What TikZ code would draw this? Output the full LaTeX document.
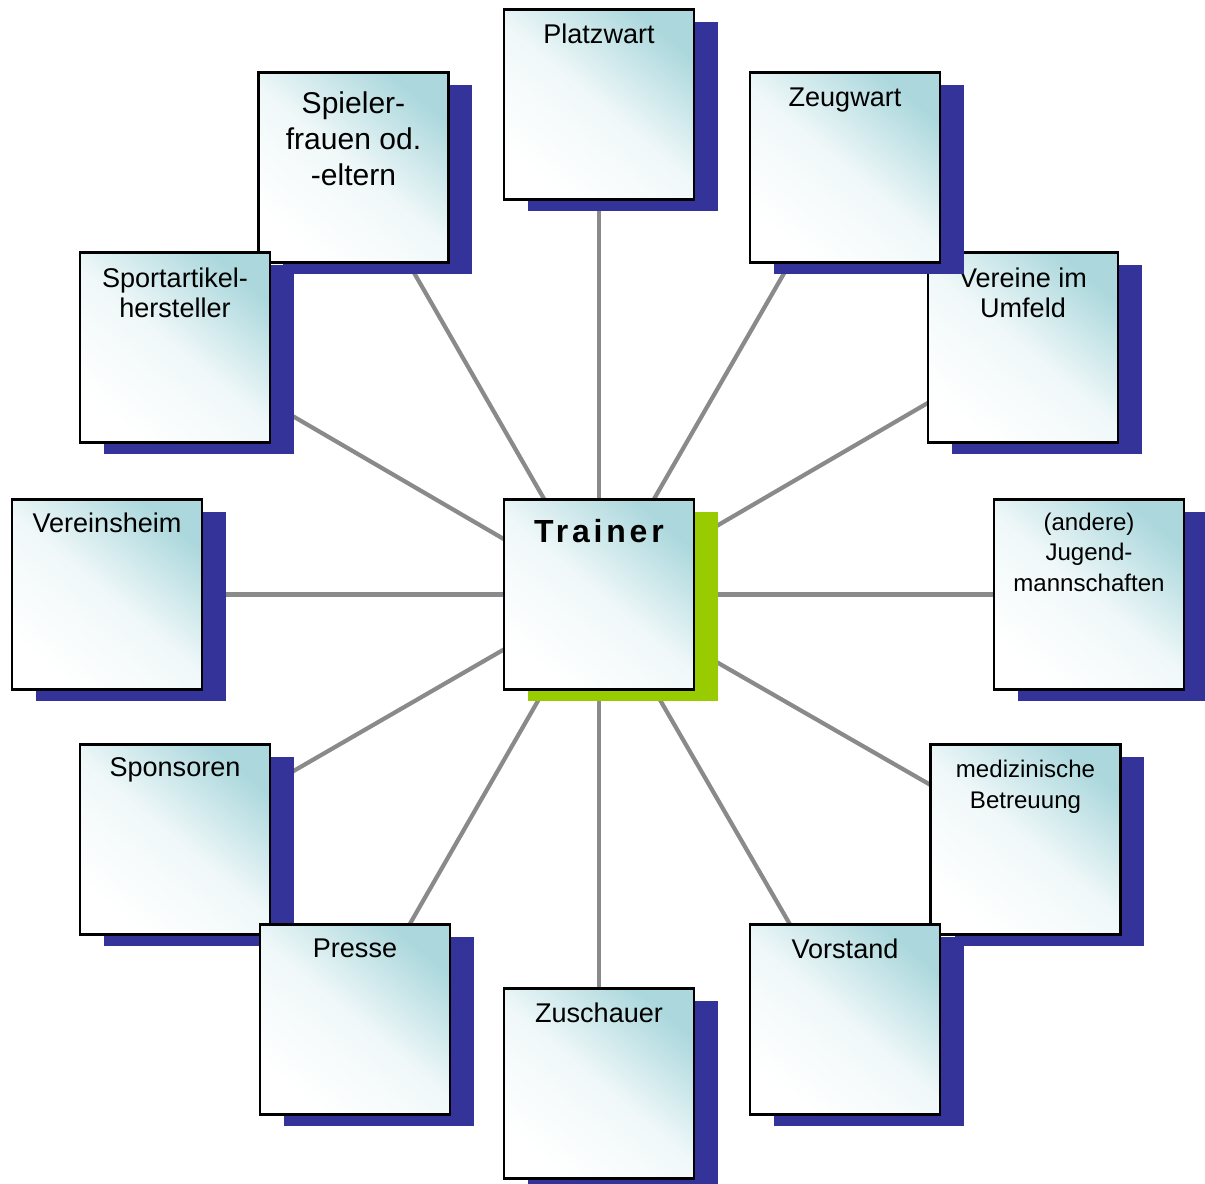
\documentclass[tikz,border=0pt]{standalone}
\usepackage{fontspec}
\setmainfont{Liberation Sans}
\usetikzlibrary{shadows,backgrounds}
\definecolor{shadowblue}{RGB}{51,51,153}
\definecolor{shadowgreen}{RGB}{153,204,0}
\definecolor{boxteal}{RGB}{172,216,221}
\definecolor{linkgray}{RGB}{138,138,138}
\begin{document}
\begin{tikzpicture}[x=0.02cm, y=-0.02cm,
  box/.style={draw=black, line width=1.6pt, minimum width=3.8cm, minimum height=3.8cm, inner sep=0pt,
    top color=boxteal, bottom color=white, middle color=boxteal!18!white, shading angle=-40,
    drop shadow={shadow xshift=0.48cm, shadow yshift=-0.24cm, fill=#1, opacity=1}},
  box/.default=shadowblue,
  txt/.style={anchor=north, align=center, inner sep=0pt, font=\fontsize{15.4}{17.1}\selectfont},
  link/.style={draw=linkgray, line width=2.4pt}]

\useasboundingbox (0,0) rectangle (1205,1184);

\node[box] (plat) at (599,104.5) {};
\node[txt] (plat-t) at ([yshift=-0.3cm]plat.north) {Platzwart};

\node[box] (spiel) at (353.5,167.5) {};
\node[txt, font=\fontsize{17.1}{20.5}\selectfont] (spiel-t) at ([yshift=-0.4cm]spiel.north) {Spieler-\\frauen od.\\-eltern};

\node[box] (sport) at (175,347.5) {};
\node[txt] (sport-t) at ([yshift=-0.32cm]sport.north) {Sportartikel-\\hersteller};

\node[box] (verein) at (1023,347.5) {};
\node[txt] (verein-t) at ([yshift=-0.32cm]verein.north) {Vereine im\\Umfeld};

\node[box] (zeug) at (845,167.5) {};
\node[txt] (zeug-t) at ([yshift=-0.32cm]zeug.north) {Zeugwart};

\node[box] (heim) at (107,594.5) {};
\node[txt] (heim-t) at ([yshift=-0.28cm]heim.north) {Vereinsheim};

\node[box=shadowgreen] (trainer) at (599,594.5) {};
\node[txt, font=\fontsize{18.2}{20}\selectfont\bfseries\addfontfeature{LetterSpace=12}] (trainer-t) at ([yshift=-0.42cm]trainer.north) {Trainer};

\node[box] (jugend) at (1089,594.5) {};
\node[txt, font=\fontsize{13.7}{17.1}\selectfont] (jugend-t) at ([yshift=-0.3cm]jugend.north) {(andere)\\Jugend-\\mannschaften};

\node[box] (spons) at (175,839.5) {};
\node[txt] (spons-t) at ([yshift=-0.28cm]spons.north) {Sponsoren};

\node[box] (presse) at (355,1019.5) {};
\node[txt] (presse-t) at ([yshift=-0.3cm]presse.north) {Presse};

\node[box] (medi) at (1025.5,839.5) {};
\node[txt, font=\fontsize{13.7}{17.6}\selectfont] (medi-t) at ([yshift=-0.34cm]medi.north) {medizinische\\Betreuung};

\node[box] (vorst) at (845,1019.5) {};
\node[txt] (vorst-t) at ([yshift=-0.3cm]vorst.north) {Vorstand};

\node[box] (zusch) at (599,1083.5) {};
\node[txt] (zusch-t) at ([yshift=-0.3cm]zusch.north) {Zuschauer};

\begin{scope}[on background layer]
\foreach \n in {plat,spiel,sport,verein,zeug,heim,jugend,spons,presse,medi,vorst,zusch}
  \draw[link] (trainer.center) -- (\n.center);
\end{scope}

\end{tikzpicture}
\end{document}
